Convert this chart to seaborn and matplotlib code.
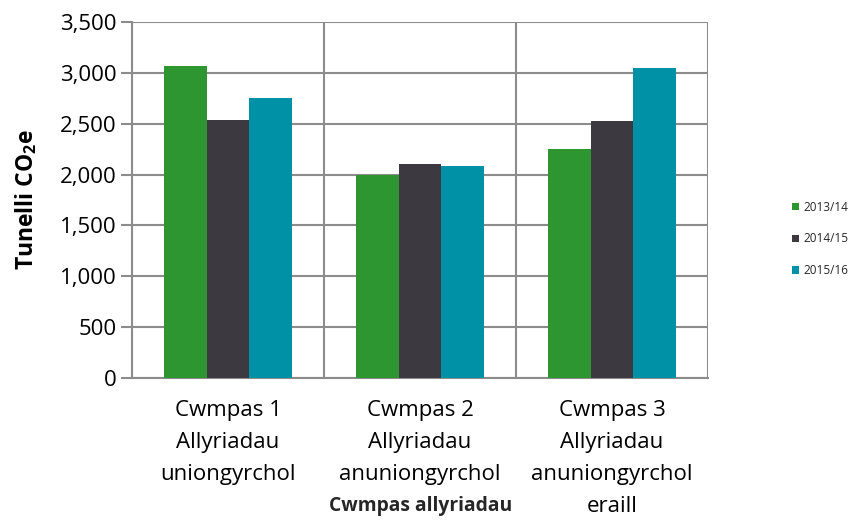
import matplotlib
matplotlib.use("Agg")
import matplotlib.pyplot as plt
import matplotlib.transforms as mtransforms
import seaborn as sns
import pandas as pd

categories = [
    "Cwmpas 1\nAllyriadau\nuniongyrchol",
    "Cwmpas 2\nAllyriadau\nanuniongyrchol",
    "Cwmpas 3\nAllyriadau\nanuniongyrchol\neraill",
]
years = ["2013/14", "2014/15", "2015/16"]
values_2013 = [3065, 1995, 2250]
values_2014 = [2533, 2102, 2523]
values_2015 = [2750, 2083, 3052]
colors = ["#2E9630", "#3C3A40", "#0091A6"]
yticks = [0, 500, 1000, 1500, 2000, 2500, 3000, 3500]

sns.set_theme(style="white")
FONT = "Open Sans"
plt.rcParams["font.family"] = [FONT, "DejaVu Sans"]
plt.rcParams["mathtext.fontset"] = "custom"
plt.rcParams["mathtext.rm"] = FONT
plt.rcParams["mathtext.bf"] = FONT + ":bold"

rows = []
for series, vals in zip(years, [values_2013, values_2014, values_2015]):
    for c, v in zip(categories, vals):
        rows.append({"cat": c, "year": series, "val": v})
df = pd.DataFrame(rows)

fig = plt.figure(figsize=(8.66, 5.2), dpi=100)
ax = fig.add_axes([0.1524, 0.2731, 0.8176 - 0.1524, 0.9577 - 0.2731])

sns.barplot(data=df, x="cat", y="val", hue="year", order=categories,
            hue_order=years, palette=colors, width=0.67, saturation=1,
            linewidth=0, ax=ax, zorder=3)

grid_c = "#8C8C8C"
ax.set_ylim(0, 3500)
ax.set_xlim(-0.5, 2.5)
ax.set_yticks(yticks)
ax.set_yticklabels([f"{t:,}" for t in yticks], fontsize=16)
for t in yticks:
    ax.axhline(t, color=grid_c, lw=1.5, zorder=1)
for xv in [-0.5, 0.5, 1.5, 2.5]:
    ax.axvline(xv, color=grid_c, lw=1.5, zorder=1)
for s in ax.spines.values():
    s.set_visible(False)
ax.spines["left"].set_visible(True)
ax.spines["left"].set_color(grid_c)
ax.spines["left"].set_linewidth(1.5)
ax.spines["bottom"].set_visible(True)
ax.spines["bottom"].set_color(grid_c)
ax.spines["bottom"].set_linewidth(1.5)
ax.tick_params(axis="y", which="both", left=True, length=8, width=1.5,
               color=grid_c, pad=3, labelcolor="black")
ax.tick_params(axis="x", bottom=False, pad=10, labelcolor="black")
ax.set_xticks(range(len(categories)))
ax.set_xticklabels(categories, fontsize=16, linespacing=1.68, va="top")

ax.set_xlabel("")
ax.set_ylabel(r"Tunelli CO$_\mathbf{2}$e", fontsize=16.5, fontweight="bold",
              color="black")
ax.yaxis.set_label_coords(39 / 866, 0.5,
                          transform=mtransforms.blended_transform_factory(
                              fig.transFigure, ax.transAxes))
fig.text(421 / 866, 1 - 506 / 520, "Cwmpas allyriadau", fontsize=13.9,
         fontweight="bold", ha="center", va="center")

handles, labels = ax.get_legend_handles_labels()
leg = ax.legend(handles, labels, loc="center left",
                bbox_to_anchor=(792 / 866, 1 - 239 / 520),
                bbox_transform=fig.transFigure, frameon=False, fontsize=8.5,
                handlelength=0.6, handleheight=0.6, handletextpad=0.35,
                labelspacing=1.6, borderpad=0, borderaxespad=0)

fig.savefig("out.png", dpi=100)
